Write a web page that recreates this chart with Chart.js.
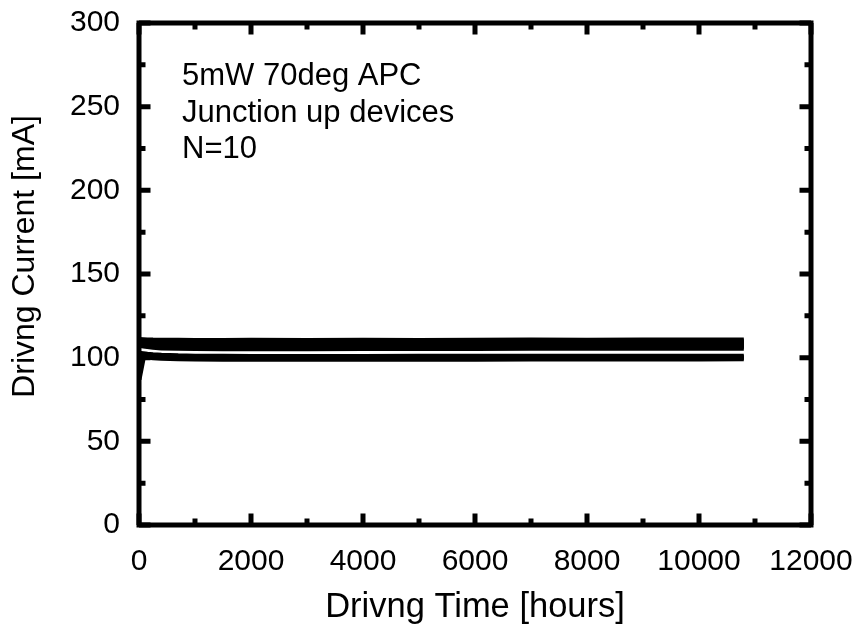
<!DOCTYPE html>
<html>
<head>
<meta charset="utf-8">
<title>Driving current vs time</title>
<script src="https://cdn.jsdelivr.net/npm/chart.js@4.4.1/dist/chart.umd.min.js"></script>
<style>
  html, body { margin: 0; padding: 0; background: #fff; }
  canvas { display: block; }
</style>
</head>
<body>
<canvas id="lifeChart" width="860" height="631"></canvas>
<script>
// aging test log: hours on test and driving current of each device [mA]
const hours = [0, 80, 150, 250, 400, 700, 1000, 1500, 2000, 3000, 4000, 5000, 6000, 7000, 8000, 9000, 10000, 10800];

const dev01 = [110.8, 110.7, 110.6, 110.5, 110.4, 110.4, 110.3, 110.3, 110.4, 110.3, 110.4, 110.3, 110.4, 110.5, 110.4, 110.5, 110.5, 110.5];
const dev02 = [110.2, 110.0, 109.8, 109.7, 109.6, 109.6, 109.5, 109.5, 109.6, 109.5, 109.5, 109.6, 109.6, 109.6, 109.7, 109.7, 109.7, 109.8];
const dev03 = [109.6, 109.4, 109.2, 109.0, 108.9, 108.8, 108.8, 108.7, 108.7, 108.8, 108.7, 108.8, 108.8, 108.9, 108.9, 108.9, 109.0, 109.0];
const dev04 = [109.0, 108.8, 108.5, 108.3, 108.1, 108.0, 107.9, 107.9, 107.9, 107.9, 107.9, 108.0, 108.0, 108.0, 108.1, 108.1, 108.1, 108.2];
const dev05 = [108.4, 108.2, 107.8, 107.5, 107.3, 107.2, 107.1, 107.1, 107.0, 107.1, 107.1, 107.1, 107.2, 107.2, 107.2, 107.3, 107.3, 107.3];
const dev06 = [107.9, 107.6, 107.2, 106.8, 106.5, 106.3, 106.3, 106.2, 106.2, 106.2, 106.3, 106.3, 106.3, 106.4, 106.4, 106.4, 106.5, 106.5];
const dev07 = [107.4, 107.0, 106.6, 106.2, 105.8, 105.6, 105.5, 105.4, 105.4, 105.4, 105.5, 105.5, 105.5, 105.6, 105.6, 105.6, 105.7, 105.7];
const dev08 = [102.6, 102.4, 102.1, 101.8, 101.4, 101.1, 100.9, 100.8, 100.7, 100.7, 100.7, 100.8, 100.8, 100.8, 100.9, 100.9, 100.9, 100.9];
const dev09 = [101.6, 101.4, 101.1, 100.8, 100.5, 100.2, 100.0, 99.9, 99.9, 99.9, 99.9, 99.9, 100.0, 100.0, 100.0, 100.0, 100.1, 100.1];
const dev10 = [87.0, 100.6, 100.4, 100.0, 99.7, 99.4, 99.2, 99.1, 99.0, 99.0, 99.1, 99.1, 99.1, 99.2, 99.2, 99.2, 99.2, 99.3];

const devices = [dev01, dev02, dev03, dev04, dev05, dev06, dev07, dev08, dev09, dev10];

const xMax = 12000, xStep = 2000;
const yMax = 300, yStep = 50;
const xTitle = 'Drivng Time [hours]';
const yTitle = 'Drivng Current [mA]';
const notes = ['5mW 70deg APC', 'Junction up devices', 'N=10'];

const FONT = '"Liberation Sans", Arial, Helvetica, sans-serif';

// heavy frame with inward major/minor ticks on all four sides, plus titles
const framePlugin = {
  id: 'frame',
  afterDraw(chart) {
    const { ctx, chartArea: a, scales: { x, y } } = chart;
    ctx.save();
    ctx.strokeStyle = '#000';
    ctx.lineWidth = 5;
    ctx.lineCap = 'butt';
    ctx.strokeRect(a.left, a.top, a.right - a.left, a.bottom - a.top);

    const major = 11.5, minor = 6.5;
    ctx.beginPath();
    for (let v = 0; v <= xMax; v += xStep / 2) {
      const px = x.getPixelForValue(v);
      const len = v % xStep === 0 ? major : minor;
      ctx.moveTo(px, a.bottom); ctx.lineTo(px, a.bottom - len);
      ctx.moveTo(px, a.top); ctx.lineTo(px, a.top + len);
    }
    for (let v = 0; v <= yMax; v += yStep / 2) {
      const py = y.getPixelForValue(v);
      const len = v % yStep === 0 ? major : minor;
      ctx.moveTo(a.left, py); ctx.lineTo(a.left + len, py);
      ctx.moveTo(a.right, py); ctx.lineTo(a.right - len, py);
    }
    ctx.stroke();

    ctx.fillStyle = '#000';
    // y axis title
    ctx.save();
    ctx.translate(25, 256.5);
    ctx.rotate(-Math.PI / 2);
    ctx.font = '32px ' + FONT;
    ctx.textAlign = 'center';
    ctx.textBaseline = 'middle';
    ctx.fillText(yTitle, 0, 0);
    ctx.restore();

    // test conditions
    ctx.font = '31px ' + FONT;
    ctx.textAlign = 'left';
    ctx.textBaseline = 'alphabetic';
    const lines = [85, 122, 158];
    notes.forEach((t, i) => ctx.fillText(t, 182, lines[i]));
    ctx.restore();
  }
};

new Chart(document.getElementById('lifeChart'), {
  type: 'line',
  data: {
    datasets: devices.map((vals, i) => ({
      label: 'dev' + (i + 1),
      data: hours.map((h, k) => ({ x: h, y: vals[k] })),
      borderColor: '#000',
      borderWidth: 5,
      borderJoinStyle: 'bevel',
      pointRadius: 0,
      tension: 0,
      fill: false
    }))
  },
  options: {
    responsive: false,
    animation: false,
    devicePixelRatio: 1,
    layout: { padding: { top: 23, right: 49, left: 0, bottom: 0 } },
    plugins: { legend: { display: false }, tooltip: { enabled: false } },
    scales: {
      x: {
        type: 'linear',
        min: 0, max: xMax,
        grid: { display: false },
        border: { display: false },
        ticks: {
          stepSize: xStep, color: '#000', padding: 11, maxRotation: 0,
          font: { family: FONT, size: 30 },
          callback: v => String(v)
        },
        title: { display: true, text: xTitle, color: '#000', padding: { top: 0, bottom: 3 }, font: { family: FONT, size: 34.5 } },
        afterFit(s) { s.height = 106; s.paddingLeft = 0; s.paddingRight = 0; }
      },
      y: {
        type: 'linear',
        min: 0, max: yMax,
        grid: { display: false },
        border: { display: false },
        ticks: { stepSize: yStep, color: '#000', padding: 11, font: { family: FONT, size: 30 } },
        afterFit(s) { s.width = 139; s.paddingTop = 0; s.paddingBottom = 0; }
      }
    }
  },
  plugins: [framePlugin]
});
</script>
</body>
</html>
